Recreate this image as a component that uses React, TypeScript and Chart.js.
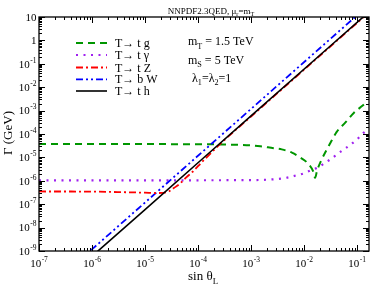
import React, { useEffect, useRef } from "react";
import { Chart, registerables } from "chart.js";

Chart.register(...registerables);

// ---------- data ----------
const seriesNames = ["T\u2192 t g", "T\u2192 t \u03b3", "T\u2192 t Z", "T\u2192 b W", "T\u2192 t h"];

const tgX = [1e-7, 1e-5, 1e-4, 3e-4, 1e-3, 1.5e-3, 2.4e-3, 3.8e-3, 5.9e-3, 8.7e-3, 1.15e-2, 1.48e-2, 1.62e-2, 1.75e-2, 2.15e-2, 3.15e-2, 4.13e-2, 6.1e-2, 8.75e-2, 0.126, 0.141];
const tgY = [3.7e-5, 3.7e-5, 3.65e-5, 3.55e-5, 3.25e-5, 3.0e-5, 2.57e-5, 2.2e-5, 1.6e-5, 9.5e-6, 5.9e-6, 2.6e-6, 1.35e-6, 2.6e-6, 8.1e-6, 4.2e-5, 1.23e-4, 3.2e-4, 8.1e-4, 1.6e-3, 2.0e-3];

const taX = [1e-7, 1e-5, 1e-3, 3.2e-3, 5.1e-3, 7.1e-3, 9.7e-3, 1.34e-2, 1.86e-2, 2.5e-2, 3.3e-2, 4.4e-2, 5.9e-2, 7.9e-2, 0.1026, 0.128, 0.141];
const taY = [1.05e-6, 1.05e-6, 1.07e-6, 1.2e-6, 1.4e-6, 1.7e-6, 2.04e-6, 2.8e-6, 3.8e-6, 5.9e-6, 8.9e-6, 1.48e-5, 2.34e-5, 3.8e-5, 6.2e-5, 1.05e-4, 1.25e-4];

const tzX = [1e-7, 1e-6, 3e-6, 1e-5, 1.6e-5, 2.2e-5, 2.8e-5, 3.5e-5, 4.5e-5, 6e-5, 8e-5, 1.2e-4, 3e-4, 1e-3, 1e-2, 0.1, 0.17];
const tzY = [3.5e-7, 3.45e-7, 3.3e-7, 3.1e-7, 3.0e-7, 3.05e-7, 3.5e-7, 4.9e-7, 7.4e-7, 1.4e-6, 2.5e-6, 6.5e-6, 5.0e-5, 5.6e-4, 5.6e-2, 5.6, 16.2];

const bwX = [5e-7, 1e-5, 1e-3, 0.17];
const bwY = [2.95e-10, 1.18e-7, 1.18e-3, 34.1];

const thX = [5e-7, 1e-5, 1e-3, 0.17];
const thY = [1.48e-10, 5.9e-8, 5.9e-4, 17.0];

const xExps = [-7, -6, -5, -4, -3, -2, -1];
const yExps = [-9, -8, -7, -6, -5, -4, -3, -2, -1, 0, 1];

const titleMain = "NNPDF2.3QED, \u03bc";
const xTitle = "sin \u03b8";
const yTitle = "\u0393 (GeV)";

// ---------- styles ----------
const colors = ["rgb(0,150,0)", "rgb(160,32,240)", "rgb(255,0,0)", "rgb(0,0,255)", "rgb(0,0,0)"];
const dashes = [[7, 5], [2, 5.5], [7, 3, 2, 3], [7, 3, 2, 3, 2, 3], []];
const widths = [2, 2.2, 1.8, 1.8, 1.6];
const FONT = '"Liberation Serif", "Times New Roman", serif';

function toPts(xs: number[], ys: number[]) {
  return xs.map((x, i) => ({ x, y: ys[i] }));
}

function drawSub(ctx: CanvasRenderingContext2D, parts: [string, string][], x: number, y: number, size: number, align: "left" | "center" = "left") {
  // parts: [text, kind] kind: "n" normal, "b" subscript, "p" superscript
  const sub = size * 0.68;
  let total = 0;
  for (const [t, k] of parts) {
    ctx.font = `${k === "n" ? size : sub}px ${FONT}`;
    total += ctx.measureText(t).width;
  }
  let cx = align === "center" ? x - total / 2 : x;
  ctx.textAlign = "left";
  ctx.textBaseline = "alphabetic";
  for (const [t, k] of parts) {
    ctx.font = `${k === "n" ? size : sub}px ${FONT}`;
    const dy = k === "b" ? size * 0.3 : k === "p" ? -size * 0.42 : 0;
    ctx.fillText(t, cx, y + dy);
    cx += ctx.measureText(t).width;
  }
}

function powLabel(ctx: CanvasRenderingContext2D, e: number, x: number, y: number, align: "center" | "right") {
  const base = e === 0 ? "1" : "10";
  const sup = e === 0 || e === 1 ? "" : String(e);
  const bs = 11, ss = 7.5;
  ctx.font = `${bs}px ${FONT}`;
  const wb = ctx.measureText(base).width;
  ctx.font = `${ss}px ${FONT}`;
  const ws = sup ? ctx.measureText(sup).width + 0.5 : 0;
  const total = wb + ws;
  const x0 = align === "center" ? x - total / 2 : x - total;
  ctx.textAlign = "left";
  ctx.textBaseline = "alphabetic";
  ctx.font = `${bs}px ${FONT}`;
  ctx.fillText(base, x0, y);
  if (sup) {
    ctx.font = `${ss}px ${FONT}`;
    ctx.fillText(sup, x0 + wb + 0.5, y - 5);
  }
}

const decor = {
  id: "decor",
  afterDatasetsDraw(chart: any) {
    const { ctx, chartArea: a, scales } = chart;
    const xs = scales.x, ys = scales.y;
    ctx.save();
    ctx.fillStyle = "#000";
    ctx.strokeStyle = "#000";
    // ticks
    ctx.lineWidth = 1;
    ctx.beginPath();
    for (const e of xExps) {
      for (let k = 1; k <= 9; k++) {
        const v = k * Math.pow(10, e);
        if (v > xs.max) break;
        const px = Math.round(xs.getPixelForValue(v)) + 0.5;
        const len = k === 1 ? 6 : 3;
        ctx.moveTo(px, a.bottom); ctx.lineTo(px, a.bottom - len);
        ctx.moveTo(px, a.top); ctx.lineTo(px, a.top + len);
      }
    }
    for (const e of yExps) {
      for (let k = 1; k <= 9; k++) {
        const v = k * Math.pow(10, e);
        if (v > ys.max) break;
        const py = Math.round(ys.getPixelForValue(v)) + 0.5;
        const len = k === 1 ? 6 : 3;
        ctx.moveTo(a.left, py); ctx.lineTo(a.left + len, py);
        ctx.moveTo(a.right, py); ctx.lineTo(a.right - len, py);
      }
    }
    ctx.stroke();
    // frame
    ctx.lineWidth = 1.3;
    ctx.strokeRect(a.left, a.top, a.right - a.left, a.bottom - a.top);

    // tick labels
    for (const e of xExps) {
      const px = xs.getPixelForValue(Math.pow(10, e));
      powLabel(ctx, e, px, a.bottom + 16, "center");
    }
    for (const e of yExps) {
      const py = ys.getPixelForValue(Math.pow(10, e));
      powLabel(ctx, e, a.left - 2.5, py + 3.8, "right");
    }

    // axis titles
    drawSub(ctx, [[xTitle, "n"], ["L", "b"]], 188, 280, 13);
    ctx.save();
    ctx.translate(11.5, 133);
    ctx.rotate(-Math.PI / 2);
    ctx.font = `13px ${FONT}`;
    ctx.textAlign = "center";
    ctx.textBaseline = "alphabetic";
    ctx.fillText(yTitle, 0, 0);
    ctx.restore();

    // title
    drawSub(ctx, [[titleMain, "n"], ["r", "b"], ["=m", "n"], ["T", "b"]], 211, 13.5, 9, "center");

    // legend
    const rowY = [43, 55, 67.5, 79.3, 91];
    for (let i = 0; i < seriesNames.length; i++) {
      ctx.save();
      ctx.strokeStyle = colors[i];
      ctx.lineWidth = widths[i];
      ctx.setLineDash(dashes[i]);
      ctx.beginPath();
      ctx.moveTo(76, rowY[i]);
      ctx.lineTo(107, rowY[i]);
      ctx.stroke();
      ctx.restore();
      ctx.font = `12px ${FONT}`;
      ctx.textAlign = "left";
      ctx.textBaseline = "alphabetic";
      ctx.fillText(seriesNames[i], 115, rowY[i] + 4);
    }

    // annotations
    drawSub(ctx, [["m", "n"], ["T", "b"], [" = 1.5 TeV", "n"]], 188, 45, 12);
    drawSub(ctx, [["m", "n"], ["S", "b"], [" = 5 TeV", "n"]], 188, 63.5, 12);
    drawSub(ctx, [["\u03bb", "n"], ["1", "b"], ["=\u03bb", "n"], ["2", "b"], ["=1", "n"]], 192, 81.5, 12);
    ctx.restore();
  },
};

export default function App() {
  const ref = useRef<HTMLCanvasElement | null>(null);
  useEffect(() => {
    if (!ref.current) return;
    const sets = [toPts(tgX, tgY), toPts(taX, taY), toPts(tzX, tzY), toPts(bwX, bwY), toPts(thX, thY)];
    const order = [4, 2, 3, 1, 0];
    const chart = new Chart(ref.current, {
      type: "line",
      data: {
        datasets: order.map((i) => ({
          label: seriesNames[i],
          data: sets[i],
          borderColor: colors[i],
          borderWidth: widths[i],
          borderDash: dashes[i],
          pointRadius: 0,
          fill: false,
          cubicInterpolationMode: "monotone" as const,
          clip: 0,
        })),
      },
      options: {
        animation: false,
        responsive: false,
        devicePixelRatio: 1,
        layout: { padding: { left: 39, right: 5, top: 17, bottom: 36 } },
        plugins: { legend: { display: false }, title: { display: false }, tooltip: { enabled: false } },
        scales: {
          x: { type: "logarithmic", min: 1e-7, max: 0.168, display: false },
          y: { type: "logarithmic", min: 1e-9, max: 10, display: false },
        },
      },
      plugins: [decor],
    });
    return () => chart.destroy();
  }, []);
  return (
    <div style={{ position: "fixed", left: 0, top: 0, width: 374, height: 287, background: "#fff" }}>
      <canvas ref={ref} width={374} height={287} style={{ display: "block" }} />
    </div>
  );
}
